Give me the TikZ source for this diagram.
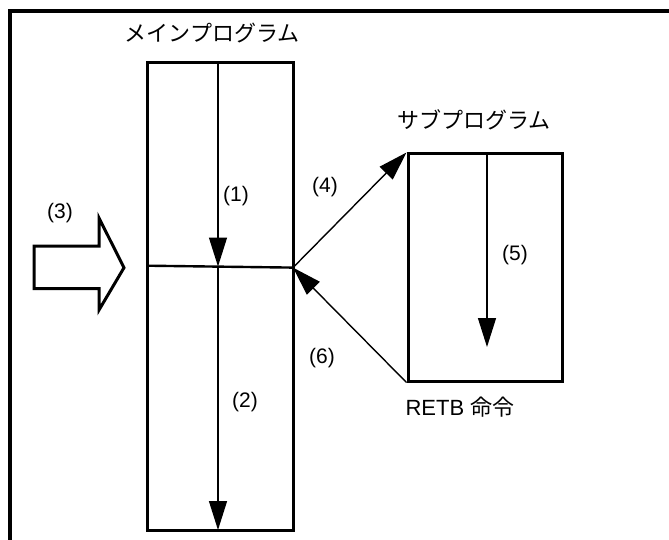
\documentclass[tikz,border=0pt]{standalone}
\usepackage{fontspec}
\setmainfont{Liberation Sans}
\newfontfamily\jpfont{Noto Sans CJK JP}
\usetikzlibrary{arrows.meta}
\begin{document}
\begin{tikzpicture}[
    x=1pt,y=-1pt,
    progbox/.style={draw,line width=3pt,inner sep=0pt},
    flow/.style={line width=1.4pt,-{Triangle[length=29pt,width=18pt]}},
    lbl/.style={inner sep=0pt,font=\fontsize{21}{24}\selectfont},
    title/.style={inner sep=0pt,font=\jpfont\fontsize{22}{26}\selectfont}
]
\useasboundingbox (0,0) rectangle (669,540);
\draw[line width=3.4pt] (10,540) -- (10,11) -- (669,11);

% boxes
\node[progbox,minimum width=146pt,minimum height=467pt] (main) at (220,296.5) {};
\node[progbox,minimum width=154pt,minimum height=227pt] (sub) at (485,267.5) {};
\node[title] (maintitle) at (212,33) {メインプログラム};
\node[title] (subtitle) at (474,120) {サブプログラム};
\node[lbl,font=\fontsize{22}{26}\selectfont] (retb) at (460,407) {RETB {\jpfont 命令}};

% points on the flow
\coordinate (cutL) at (147,265.7);
\coordinate (split) at (293,267.6);
\coordinate (mtop) at (218,63);
\coordinate (mmid) at (218,266.5);
\coordinate (mbot) at (218,530);
\coordinate (stop) at (487,154);
\coordinate (sbot) at (487,347);

\draw[line width=2.4pt] (cutL) -- (split);
\draw[flow] (mtop) -- (mmid);
\draw[flow] (mmid) -- (mbot);
\draw[flow] (stop) -- (sbot);
\draw[flow] (split) -- (sub.north west);
\draw[flow] (sub.south west) -- (split);

% interrupt arrow
\draw[line width=3pt,line join=miter] (34,246) -- (99,246) -- (99,218) -- (124,267.7)
    -- (99,310) -- (99,288.5) -- (34,288.5) -- cycle;

\node[lbl] (n1) at (236,196) {(1)};
\node[lbl] (n2) at (245,402) {(2)};
\node[lbl] (n3) at (60,213) {(3)};
\node[lbl] (n4) at (325,187) {(4)};
\node[lbl] (n5) at (515,255) {(5)};
\node[lbl] (n6) at (322,358) {(6)};
\end{tikzpicture}
\end{document}
